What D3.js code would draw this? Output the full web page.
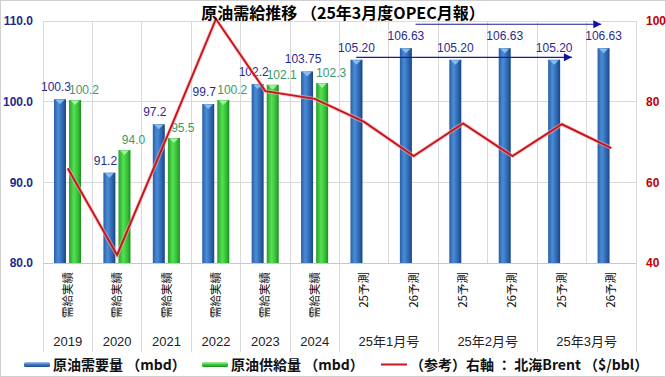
<!DOCTYPE html>
<html><head><meta charset="utf-8">
<script src="https://cdn.jsdelivr.net/npm/d3@7"></script>
<style>body{margin:0;background:#fff}svg{display:block}</style>
</head><body>
<script>
// ---- data ----
const categories = ["需給実績","需給実績","需給実績","需給実績","需給実績","需給実績","25予測","26予測","25予測","26予測","25予測","26予測"];
const groupLabels = ["2019","2020","2021","2022","2023","2024","25年1月号","25年2月号","25年3月号"];
const groupSpans = [1,1,1,1,1,1,2,2,2];
const demand = [100.3, 91.2, 97.2, 99.7, 102.2, 103.75, 105.20, 106.63, 105.20, 106.63, 105.20, 106.63];
const demandLabels = ["100.3","91.2","97.2","99.7","102.2","103.75","105.20","106.63","105.20","106.63","105.20","106.63"];
const supply = [100.2, 94.0, 95.5, 100.2, 102.1, 102.3, null, null, null, null, null, null];
const supplyLabels = ["100.2","94.0","95.5","100.2","102.1","102.3"];
const brent = [63.5, 42.0, 71.0, 100.5, 82.6, 80.7, 75.0, 66.5, 74.6, 66.5, 74.4, 68.5];
const leftTicks = [80, 90, 100, 110];
const rightTicks = [40, 60, 80, 100];
const title = "原油需給推移 （25年3月度OPEC月報）";
const legendItems = ["原油需要量 （mbd）","原油供給量 （mbd）","（参考）右軸 ： 北海Brent （$/bbl）"];
// annotation arrows: [fromCategory, toCategory, level(left axis)]
const arrows = [[7, 11, 109.6],[6, 10, 105.5]];

const W = 666, H = 377;
const svg = d3.select("body").append("svg").attr("width", W).attr("height", H);
const defs = svg.append("defs");
function hgrad(id, stops){
  const g = defs.append("linearGradient").attr("id", id).attr("x1","0").attr("x2","1").attr("y1","0").attr("y2","0");
  stops.forEach(s=>g.append("stop").attr("offset", s[0]).attr("stop-color", s[1]));
}
function vgrad(id, stops){
  const g = defs.append("linearGradient").attr("id", id).attr("x1","0").attr("x2","0").attr("y1","0").attr("y2","1");
  stops.forEach(s=>g.append("stop").attr("offset", s[0]).attr("stop-color", s[1]));
}
hgrad("gBlue", [["0%","#2a5ea6"],["35%","#4a8cd6"],["70%","#2f69b3"],["100%","#1c4482"]]);
hgrad("gGreen", [["0%","#28a028"],["40%","#55e055"],["75%","#33bf33"],["100%","#1f8a1f"]]);
vgrad("lBlue", [["0%","#a8c8ec"],["50%","#3f78c0"],["100%","#1d4a8a"]]);
vgrad("lGreen", [["0%","#b0f0b0"],["50%","#3ccc3c"],["100%","#1f8a1f"]]);

const pLeft = 43, pRight = 636, pTop = 21, pBottom = 263;
const x = d3.scaleBand().domain(d3.range(categories.length)).range([pLeft, pRight]).padding(0);
const yL = d3.scaleLinear().domain([80, 110]).range([pBottom, pTop]);
const yR = d3.scaleLinear().domain([40, 100]).range([pBottom, pTop]);
const bw = x.bandwidth();

// border
svg.append("rect").attr("x",0.5).attr("y",0.5).attr("width",W-1).attr("height",H-1)
  .attr("fill","none").attr("stroke","#cfcfcf");

// grid
const grid = svg.append("g").attr("stroke","#d9d9d9").attr("stroke-width",1).attr("shape-rendering","crispEdges");
leftTicks.forEach(t=>grid.append("line").attr("x1",pLeft).attr("x2",pRight).attr("y1",yL(t)).attr("y2",yL(t)));
d3.range(categories.length+1).forEach(i=>{
  const xx = i < categories.length ? x(i) : pRight;
  grid.append("line").attr("x1",xx).attr("x2",xx).attr("y1",pTop).attr("y2",pBottom);
});
// group separators below axis
let acc = 0;
const groupBounds = [0];
groupSpans.forEach(s=>{acc += s; groupBounds.push(acc);});
groupBounds.forEach(b=>{
  const xx = b < categories.length ? x(b) : pRight;
  grid.append("line").attr("x1",xx).attr("x2",xx).attr("y1",pBottom).attr("y2",352);
});
svg.append("line").attr("x1",pLeft).attr("x2",pRight).attr("y1",pBottom).attr("y2",pBottom)
  .attr("stroke","#c8c8c8").attr("shape-rendering","crispEdges");

// axes
const axL = svg.append("g").attr("transform",`translate(${pLeft-10},0)`)
  .call(d3.axisLeft(yL).tickValues(leftTicks).tickFormat(d3.format(".1f")).tickSize(0).tickPadding(0));
axL.select(".domain").remove();
axL.selectAll("text").attr("font-family","Liberation Sans, Arial, sans-serif").attr("font-size",12)
  .attr("font-weight","bold").attr("fill","#1a2a8c");
const axR = svg.append("g").attr("transform",`translate(${pRight+10},0)`)
  .call(d3.axisRight(yR).tickValues(rightTicks).tickSize(0).tickPadding(0));
axR.select(".domain").remove();
axR.selectAll("text").attr("font-family","Liberation Sans, Arial, sans-serif").attr("font-size",12)
  .attr("font-weight","bold").attr("fill","#c00000");

// bars
const bwid = bw*0.243;
const blueX = i => x(i) + bw*0.222;
const greenX = i => x(i) + bw*0.527;
function drawBars(vals, xf, fill, capFill){
  const g = svg.append("g");
  vals.forEach((v,i)=>{
    if (v == null) return;
    const x0 = xf(i), y0 = yL(v);
    g.append("rect").attr("x",x0).attr("y",y0).attr("width",bwid).attr("height",pBottom-y0).attr("fill",fill);
    g.append("path").attr("d",`M${x0+1.5},${y0+0.5}L${x0+bwid-1.5},${y0+0.5}L${x0+bwid/2},${y0+5}Z`).attr("fill",capFill).attr("opacity",0.9);
  });
}
drawBars(demand, blueX, "url(#gBlue)", "#8fc3f2");
drawBars(supply, greenX, "url(#gGreen)", "#a8f5a8");

// bar labels
const lab = svg.append("g").attr("font-family","Liberation Sans, Arial, sans-serif").attr("font-size",12).attr("text-anchor","middle");
demand.forEach((v,i)=>{
  const dx = supply[i] != null ? -4 : 0;
  lab.append("text").attr("x",blueX(i)+bwid/2+dx).attr("y",yL(v)-8).attr("fill","#2b2b8f").text(demandLabels[i]);
});
supply.forEach((v,i)=>{
  if (v == null) return;
  lab.append("text").attr("x",greenX(i)+bwid/2+9).attr("y",yL(v)-6).attr("fill","#3a9a6a").text(supplyLabels[i]);
});

// brent line
const line = d3.line().x((d,i)=>x(i)+bw/2).y(d=>yR(d));
svg.append("path").datum(brent).attr("d",line).attr("fill","none").attr("stroke","#f3b8b8").attr("stroke-width",4).attr("opacity",0.6);
svg.append("path").datum(brent).attr("d",line).attr("fill","none").attr("stroke","#c8141c").attr("stroke-width",2).attr("stroke-linejoin","miter");

// arrows
defs.append("marker").attr("id","ah").attr("viewBox","0 0 10 10").attr("refX",10).attr("refY",5)
  .attr("markerWidth",10).attr("markerHeight",8).attr("markerUnits","userSpaceOnUse").attr("orient","auto")
  .append("path").attr("d","M0,0L10,5L0,10Z").attr("fill","#1010a8");
arrows.forEach(a=>{
  const x1 = x(a[0]) + bw/2 + (a[0]===7?2:-8);
  const x2 = x(a[1]) + bw/2 + (a[1]===11?-10:10);
  svg.append("line").attr("x1",x1).attr("x2",x2).attr("y1",yL(a[2])).attr("y2",yL(a[2]))
    .attr("stroke","#1a1aa0").attr("stroke-width",1.2).attr("marker-end","url(#ah)");
});

// category labels (rotated)
const cl = svg.append("g").attr("font-family","Noto Sans CJK JP, sans-serif").attr("font-size",11.5).attr("fill","#111");
categories.forEach((c,i)=>{
  const cx = x(i)+bw/2;
  cl.append("text").attr("transform",`translate(${cx+4},272) rotate(-90)`).attr("text-anchor","end").text(c);
});
// group labels
const gl = svg.append("g").attr("font-family","Liberation Sans, Noto Sans CJK JP, sans-serif").attr("font-size",13).attr("fill","#222").attr("text-anchor","middle");
groupLabels.forEach((g,i)=>{
  const a = x(groupBounds[i]);
  const b = groupBounds[i+1] < categories.length ? x(groupBounds[i+1]) : pRight;
  gl.append("text").attr("x",(a+b)/2).attr("y",346).text(g);
});

// title
svg.append("text").attr("x",343).attr("y",19).attr("text-anchor","middle")
  .attr("font-family","Noto Sans CJK JP, sans-serif").attr("font-weight","bold").attr("font-size",16).attr("fill","#000").text(title);

// legend
const lg = svg.append("g").attr("font-family","Noto Sans CJK JP, sans-serif").attr("font-weight","bold").attr("font-size",14).attr("fill","#111");
const legX = [24, 202, 381];
lg.append("rect").attr("x",legX[0]).attr("y",362).attr("width",26).attr("height",5).attr("rx",1.5).attr("fill","url(#lBlue)");
lg.append("rect").attr("x",legX[1]).attr("y",362).attr("width",26).attr("height",5).attr("rx",1.5).attr("fill","url(#lGreen)");
lg.append("line").attr("x1",legX[2]).attr("x2",legX[2]+26).attr("y1",364.5).attr("y2",364.5).attr("stroke","#c8141c").attr("stroke-width",2);
legendItems.forEach((t,i)=>{
  lg.append("text").attr("x",legX[i]+29).attr("y",370).text(t);
});
</script>
</body></html>
